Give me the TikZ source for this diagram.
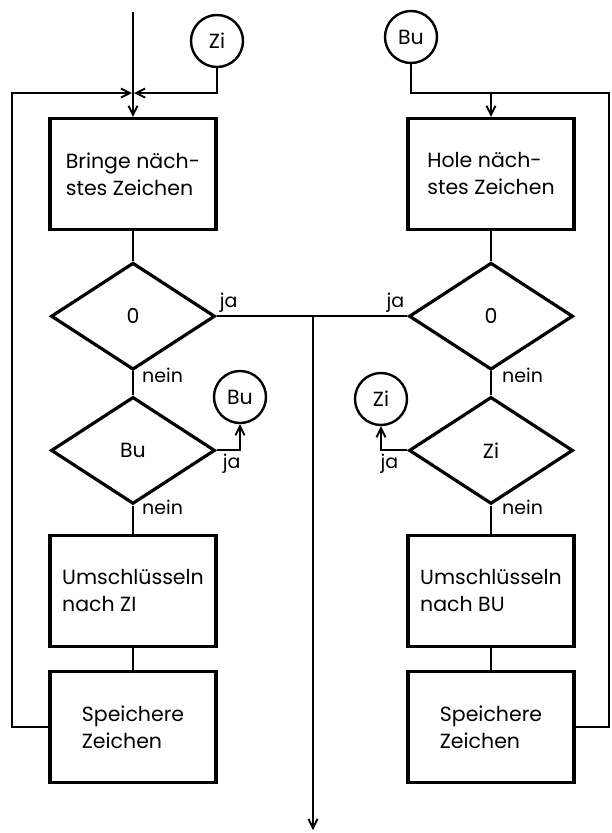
\documentclass[tikz,border=0pt]{standalone}
\usepackage{fontspec}
\setmainfont{Poppins}
\usepackage{tikz}
\usetikzlibrary{arrows.meta,positioning,shapes.geometric}

\begin{document}
\begin{tikzpicture}[
    x=1pt, y=-1pt,
    box/.style={
        draw,
        line width=3.2pt,
        align=left,
        font=\fontsize{20.5}{27}\selectfont,
        minimum width=166pt,
        minimum height=111pt
    },
    decision/.style={
        draw,
        diamond,
        line width=3.2pt,
        inner sep=0pt,
        minimum width=164pt,
        minimum height=107pt,
        font=\fontsize{20.5}{24}\selectfont
    },
    connector/.style={
        draw,
        circle,
        line width=2.4pt,
        minimum size=52pt,
        inner sep=0pt,
        font=\fontsize{20.5}{24}\selectfont
    },
    lbl/.style={font=\fontsize{19}{22}\selectfont, inner sep=1pt},
    line/.style={line width=1.9pt},
    arrow/.style={line, -{Straight Barb[length=9pt,width=9pt]}}
]
\useasboundingbox (0,0) rectangle (612,833);

% left side
\node[box] (bringe) at (133,174) {Bringe näch-\\stes Zeichen};
\node[decision, below=30pt of bringe] (nullL) {0};
\node[decision, below=24pt of nullL] (testBu) {Bu};
\node[box, below=28pt of testBu] (umL) {Umschlüsseln\\nach ZI};
\node[box, below=22pt of umL] (speicherL) {Speichere\\Zeichen};

% right side
\node[box] (hole) at (491,174) {Hole näch-\\stes Zeichen};
\node[decision, below=30pt of hole] (nullR) {0};
\node[decision, below=24pt of nullR] (testZi) {Zi};
\node[box, below=28pt of testZi] (umR) {Umschlüsseln\\nach BU};
\node[box, below=22pt of umR] (speicherR) {Speichere\\Zeichen};

% connectors
\node[connector] (ziTop) at (217,41) {Zi};
\node[connector] (buTop) at (411,37) {Bu};
\node[connector] (buSide) at (240,397) {Bu};
\node[connector] (ziSide) at (381,399) {Zi};

\coordinate (start) at (133,12);
\coordinate (joinL) at (133,93);
\coordinate (loopL) at (12,93);
\coordinate (joinR) at (491,93);
\coordinate (loopR) at (609,93);
\coordinate (exitEnd) at (313,830);
\coordinate (exitTop) at (nullL.east -| exitEnd);

\draw[arrow] (start) -- (bringe);
\draw[arrow, shorten >=1pt] (speicherL.west) -| (loopL) -- (joinL);
\draw[arrow, shorten >=1pt] (ziTop) |- (joinL);
\draw[line] (bringe) -- (nullL);
\draw[line] (nullL) -- (testBu);
\draw[line] (testBu) -- (umL);
\draw[line] (umL) -- (speicherL);
\draw[arrow] (testBu.east) -| (buSide);

\draw[line] (buTop) |- (joinR);
\draw[arrow] (speicherR.east) -| (loopR) -- (joinR) -- (hole);
\draw[line] (hole) -- (nullR);
\draw[line] (nullR) -- (testZi);
\draw[line] (testZi) -- (umR);
\draw[line] (umR) -- (speicherR);
\draw[arrow] (testZi.west) -| (ziSide);

\draw[line] (nullL.east) -- (nullR.west);
\draw[arrow] (exitTop) -- (exitEnd);

% labels
\node[lbl, anchor=south west, xshift=2pt, yshift=3pt] at (nullL.east) {ja};
\node[lbl, anchor=south east, xshift=-2pt, yshift=3pt] at (nullR.west) {ja};
\node[lbl, anchor=north west, xshift=5pt, yshift=-2pt] at (testBu.east) {ja};
\node[lbl, anchor=north east, xshift=-8pt, yshift=-2pt] at (testZi.west) {ja};
\node[lbl, anchor=west, xshift=8pt, yshift=-4pt] at (nullL.south) {nein};
\node[lbl, anchor=west, xshift=10pt, yshift=-4pt] at (nullR.south) {nein};
\node[lbl, anchor=west, xshift=8pt, yshift=-2pt] at (testBu.south) {nein};
\node[lbl, anchor=west, xshift=10pt, yshift=-2pt] at (testZi.south) {nein};
\end{tikzpicture}
\end{document}
